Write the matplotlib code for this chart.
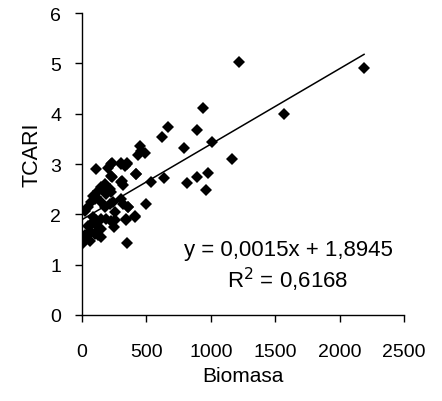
import matplotlib
matplotlib.use("Agg")
import matplotlib.pyplot as plt
import numpy as np

plt.rcParams['font.family'] = ['Liberation Sans', 'DejaVu Sans']

biomasa = [2190, 1220, 1570, 942, 665, 624, 890, 1007, 795, 1167, 453, 432, 489,
           109, 230, 200, 300, 347, 334, 230, 417, 308, 321, 536, 637, 818, 890,
           981, 960, 499, 360, 411, 339, 347, 251,
           228, 305, 352, 460, 228, 421, 305, 150, 176, 124, 215, 228, 189,
           98, 72, 85, 150, 176, 215, 241, 305, 318, 357, 47, 21,
           85, 111, 150, 189, 228, 254, 344, 409, 47, 72, 124, 150,
           21, 47, 72, 98, 124, 150, 5, 33, 8, 60, 110, 190, 260]
tcari = [4.90, 5.02, 4.00, 4.11, 3.73, 3.53, 3.68, 3.44, 3.31, 3.10, 3.35, 3.17, 3.21,
         2.90, 3.03, 2.93, 3.02, 3.03, 2.97, 2.74, 2.80, 2.67, 2.58, 2.65, 2.72, 2.62, 2.74,
         2.82, 2.49, 2.21, 2.14, 1.96, 1.89, 1.44, 1.74,
         3.00, 3.00, 3.00, 3.26, 2.77, 2.80, 2.64, 2.54, 2.60, 2.47, 2.50, 2.44, 2.40,
         2.30, 2.24, 2.37, 2.24, 2.14, 2.20, 2.24, 2.30, 2.21, 2.14, 2.14, 2.07,
         1.94, 1.89, 1.91, 1.91, 1.87, 1.89, 1.91, 1.94, 1.77, 1.81, 1.74, 1.71,
         1.58, 1.61, 1.64, 1.61, 1.58, 1.54, 1.51, 1.54, 1.44, 1.48, 2.34, 2.52, 2.05]

slope = 0.0015
intercept = 1.8945
r2 = 0.6168

x_ticks = [0, 500, 1000, 1500, 2000, 2500]
y_ticks = [0, 1, 2, 3, 4, 5, 6]

fig = plt.figure(figsize=(4.42, 4.02), dpi=100)
ax = fig.add_axes([0.1855, 0.214, 0.7285, 0.751])

ax.plot(biomasa, tcari, linestyle='none', marker='D', markersize=6.3,
        color='black', markeredgewidth=0)
xl = np.array([10, max(biomasa)])
ax.plot(xl, slope * xl + intercept, color='black', linewidth=1.1)

ax.set_xlim(0, 2500)
ax.set_ylim(0, 6)
ax.set_xticks(x_ticks)
ax.set_yticks(y_ticks)
for s in ['top', 'right']:
    ax.spines[s].set_visible(False)
for s in ['left', 'bottom']:
    ax.spines[s].set_linewidth(1.0)
ax.tick_params(axis='both', direction='out', length=5, width=1, labelsize=14)
ax.tick_params(axis='x', pad=15)
ax.tick_params(axis='y', pad=10)

ax.set_xlabel('Biomasa', fontsize=15, va='center', ha='center')
ax.xaxis.set_label_coords(0.5, -0.199)
ax.set_ylabel('TCARI', fontsize=15.5, va='center', ha='center')
ax.yaxis.set_label_coords(-0.154, 0.533)

eq = 'y = ' + f'{slope:.4f}'.replace('.', ',') + 'x + ' + f'{intercept:.4f}'.replace('.', ',')
ax.text(1599, 1.20, eq, fontsize=16, ha='center', va='baseline')
ax.text(1595, 0.55, r'R$^2$ = ' + f'{r2:.4f}'.replace('.', ','), fontsize=16,
        ha='center', va='baseline')

fig.savefig('out.png', dpi=100)
